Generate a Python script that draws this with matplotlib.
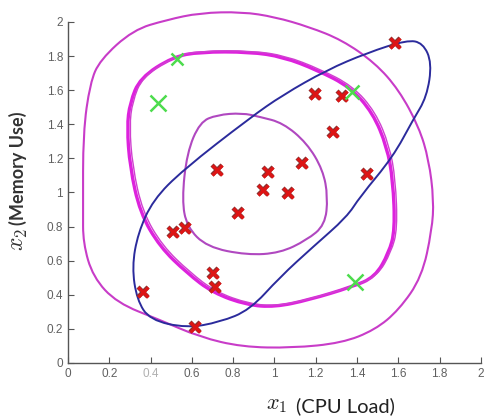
import numpy as np
import matplotlib
matplotlib.use("Agg")
import matplotlib.pyplot as plt
from matplotlib.path import Path
from matplotlib.patches import PathPatch
from matplotlib.transforms import ScaledTranslation
import matplotlib.patheffects as pe

plt.rcParams['mathtext.fontset'] = 'cm'

# Red "normal" examples
red_x = [1.584, 1.196, 1.327, 1.283, 1.133, 0.969, 0.944, 1.065, 1.448, 0.722,
         0.823, 0.508, 0.567, 0.363, 0.702, 0.712, 0.615]
red_y = [1.877, 1.578, 1.566, 1.355, 1.173, 1.120, 1.015, 0.997, 1.108, 1.132,
         0.880, 0.768, 0.792, 0.416, 0.528, 0.446, 0.211]

# Green hand-drawn marks
green_x = [0.436, 0.528, 1.375, 1.390]
green_y = [1.525, 1.780, 1.589, 0.475]
green_size = [11, 8, 10, 11]

# Traced contour points (hand drawn)
inner_x = [0.552, 0.576, 0.639, 0.722, 0.843, 0.930, 1.041, 1.157, 1.235, 1.259,
           1.245, 1.157, 1.027, 0.867, 0.673, 0.576]
inner_y = [0.956, 1.232, 1.413, 1.455, 1.466, 1.443, 1.408, 1.290, 1.132, 0.974,
           0.809, 0.721, 0.645, 0.633, 0.680, 0.798]

middle_x = [0.286, 0.300, 0.349, 0.508, 0.639, 0.881, 1.041, 1.206, 1.366, 1.477,
            1.545, 1.574, 1.584, 1.554, 1.487, 1.375, 1.167, 1.002, 0.867, 0.702,
            0.576, 0.446, 0.349, 0.300]
middle_y = [1.384, 1.525, 1.672, 1.795, 1.824, 1.824, 1.795, 1.718, 1.619, 1.466,
            1.267, 1.073, 0.780, 0.645, 0.504, 0.446, 0.370, 0.328, 0.340, 0.411,
            0.528, 0.680, 0.880, 1.150]

outer_x = [0.073, 0.073, 0.107, 0.155, 0.315, 0.479, 0.639, 0.843, 1.002, 1.167,
           1.327, 1.487, 1.603, 1.700, 1.748, 1.772, 1.763, 1.714, 1.603, 1.487,
           1.327, 1.085, 0.843, 0.639, 0.446, 0.237, 0.121, 0.073]
outer_y = [0.897, 1.349, 1.642, 1.777, 1.953, 2.012, 2.053, 2.059, 2.029, 1.971,
           1.894, 1.760, 1.601, 1.384, 1.191, 0.956, 0.780, 0.504, 0.311, 0.194,
           0.117, 0.088, 0.094, 0.152, 0.252, 0.352, 0.504, 0.704]

blue_x = [0.881, 0.557, 0.412, 0.339, 0.310, 0.334, 0.397, 0.576, 0.736, 0.881,
          1.027, 1.186, 1.351, 1.414, 1.574, 1.671, 1.738, 1.763, 1.719, 1.642,
          1.448, 1.254, 1.041]
blue_y = [1.437, 1.132, 0.956, 0.762, 0.563, 0.370, 0.252, 0.205, 0.240, 0.311,
          0.504, 0.680, 0.856, 0.974, 1.208, 1.425, 1.560, 1.760, 1.877, 1.894,
          1.818, 1.718, 1.572]

ticks = [0, 0.2, 0.4, 0.6, 0.8, 1, 1.2, 1.4, 1.6, 1.8, 2]
tick_labels = ['0', '0.2', '0.4', '0.6', '0.8', '1', '1.2', '1.4', '1.6', '1.8', '2']


def closed_smooth(xs, ys):
    pts = np.column_stack([xs, ys])
    mids = (pts + np.roll(pts, -1, axis=0)) / 2
    verts = [mids[-1]]
    codes = [Path.MOVETO]
    for i in range(len(pts)):
        verts += [pts[i], mids[i]]
        codes += [Path.CURVE3, Path.CURVE3]
    return Path(verts, codes)


fig = plt.figure(figsize=(4.84, 4.19), dpi=100)
ax = fig.add_axes([0.1405, 0.1337, 0.853, 0.814])
ax.set_xlim(0, 2)
ax.set_ylim(0, 2)

for side in ['top', 'right']:
    ax.spines[side].set_visible(False)
for side in ['left', 'bottom']:
    ax.spines[side].set_color('#555555')
    ax.spines[side].set_linewidth(1.0)

ax.set_xticks(ticks)
ax.set_yticks(ticks)
ax.set_xticklabels(tick_labels)
ax.set_yticklabels(tick_labels)
ax.tick_params(direction='in', length=4, width=0.8, color='#555555',
               labelsize=8.5, labelcolor='#606060', pad=3.5)
for lab in ax.get_xticklabels():
    lab.set_fontfamily('Liberation Sans')
    if lab.get_text() == '0.4':
        lab.set_color('#b0b0b0')
for lab in ax.get_yticklabels():
    lab.set_fontfamily('Liberation Sans')

# contours
ax.add_patch(PathPatch(closed_smooth(outer_x, outer_y), fill=False,
                       edgecolor='#c83cc8', lw=1.5, clip_on=False, zorder=2))
mid_path = closed_smooth(middle_x, middle_y)
ax.add_patch(PathPatch(mid_path, fill=False, edgecolor='#dd22dd', lw=2.4,
                       clip_on=False, zorder=2))
off = ax.transData + ScaledTranslation(1.8 / 72, 0.8 / 72, fig.dpi_scale_trans)
ax.add_patch(PathPatch(mid_path, fill=False, edgecolor='#d040d0', lw=1.0,
                       transform=off, clip_on=False, zorder=2))
ax.add_patch(PathPatch(closed_smooth(inner_x, inner_y), fill=False,
                       edgecolor='#b048c0', lw=1.5, clip_on=False, zorder=2))
ax.add_patch(PathPatch(closed_smooth(blue_x, blue_y), fill=False,
                       edgecolor='#2b2b9c', lw=1.4, clip_on=False, zorder=3))

# red crosses
ax.plot(red_x, red_y, linestyle='none', marker='x', markersize=7.5,
        markeredgewidth=2.3, color='#dd1515', zorder=4,
        path_effects=[pe.withStroke(linewidth=3.1, foreground='#8a3030')])

# green marks
for gx, gy, gs in zip(green_x, green_y, green_size):
    ax.plot([gx], [gy], linestyle='none', marker='x', markersize=gs,
            markeredgewidth=1.8, color='#4ddc4d', zorder=5, clip_on=False)

fig.text(0.593, 0.034, r'$x_1$', fontsize=16, ha='right', va='center',
         color='#222222')
fig.text(0.612, 0.030, '(CPU Load)', fontsize=14.5, ha='left', va='center',
         color='#222222', fontfamily='Lato')
fig.text(0.038, 0.462, '(Memory Use)', fontsize=13, ha='center',
         va='bottom', rotation=90, color='#333333', fontweight='bold',
         fontfamily='Lato')
fig.text(0.038, 0.455, r'$x_2$', fontsize=17, ha='center', va='top',
         rotation=90, color='#333333')

fig.savefig('out.png', dpi=100)
